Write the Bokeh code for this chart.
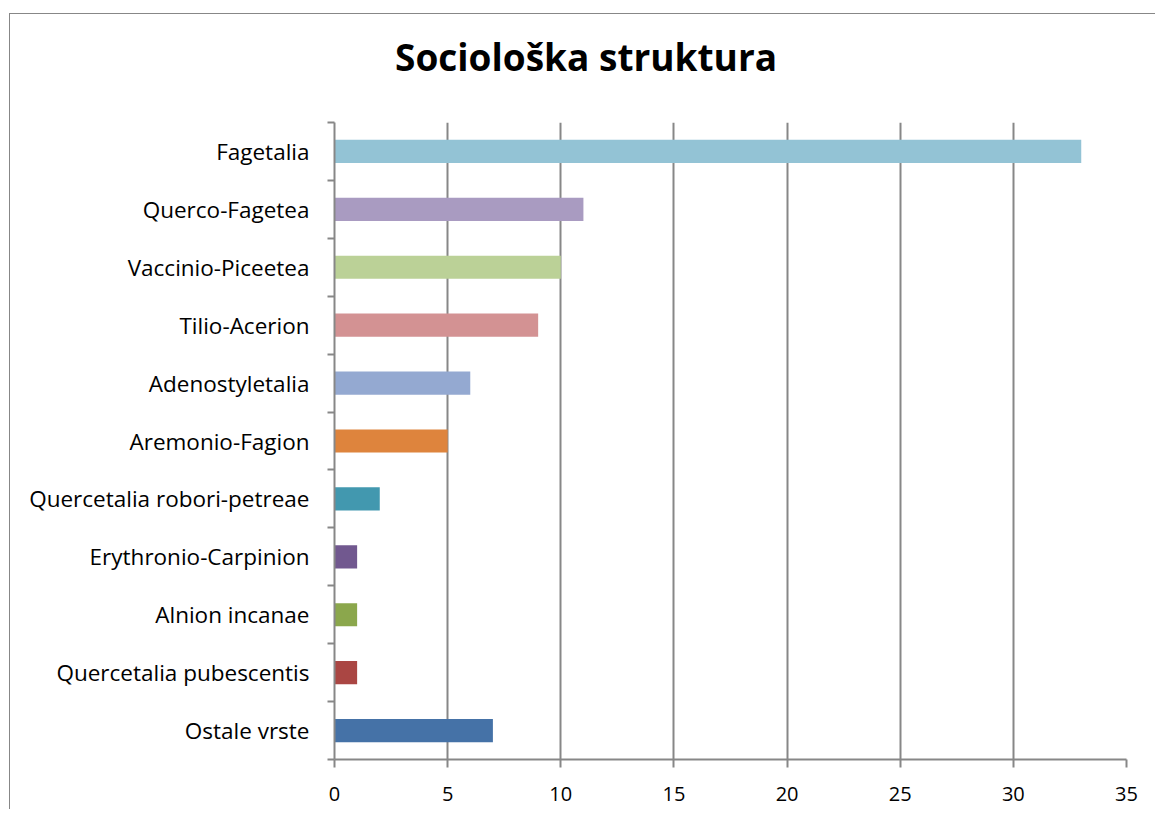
from bokeh.plotting import figure
from bokeh.models import FixedTicker, ColumnDataSource, Range1d, Div
from bokeh.layouts import column
from bokeh.embed import file_html
from bokeh.resources import INLINE

categories = ["Fagetalia", "Querco-Fagetea", "Vaccinio-Piceetea", "Tilio-Acerion",
              "Adenostyletalia", "Aremonio-Fagion", "Quercetalia robori-petreae",
              "Erythronio-Carpinion", "Alnion incanae", "Quercetalia pubescentis",
              "Ostale vrste"]
values = [33, 11, 10, 9, 6, 5, 2, 1, 1, 1, 7]
colors = ["#93C3D5", "#A99BC1", "#BBD197", "#D39293", "#94A9D1", "#DE843D",
          "#4298AF", "#71588F", "#8BA74C", "#AA4643", "#4572A7"]
x_ticks = [0, 5, 10, 15, 20, 25, 30, 35]
title_text = "Sociološka struktura"

n = len(categories)
ypos = [n - i - 0.5 for i in range(n)]
src = ColumnDataSource(dict(cat=categories, val=values, color=colors, y=ypos))

GRAY = "#878787"
FONT = "Open Sans"
FRAME_W, FRAME_H = 792, 637

p = figure(frame_width=FRAME_W, frame_height=FRAME_H,
           min_border_left=324, min_border_right=29, min_border_top=5, min_border_bottom=50,
           x_range=Range1d(0, 35), y_range=Range1d(0, n),
           output_backend="svg", toolbar_location=None)

p.hbar(y="y", right="val", left=0, height=0.4, fill_color="color", line_color=None, source=src)

p.outline_line_color = None
p.background_fill_color = "white"
p.border_fill_color = "white"

# x axis
p.xaxis.ticker = FixedTicker(ticks=x_ticks)
p.xaxis.axis_line_color = GRAY
p.xaxis.axis_line_width = 2
p.xaxis.major_tick_line_color = GRAY
p.xaxis.major_tick_line_width = 2
p.xaxis.major_tick_out = 8
p.xaxis.major_tick_in = 0
p.xaxis.minor_tick_line_color = None
p.xaxis.major_label_standoff = 19
p.xaxis.major_label_text_font = FONT
p.xaxis.major_label_text_font_size = "20px"
p.xaxis.major_label_text_color = "black"

# y axis
p.yaxis.ticker = FixedTicker(ticks=ypos, minor_ticks=list(range(n + 1)))
p.yaxis.major_label_overrides = {y: c for y, c in zip(ypos, categories)}
p.yaxis.axis_line_color = GRAY
p.yaxis.axis_line_width = 2
p.yaxis.major_tick_line_color = None
p.yaxis.major_tick_out = 0
p.yaxis.major_tick_in = 0
p.yaxis.minor_tick_line_color = GRAY
p.yaxis.minor_tick_line_width = 2
p.yaxis.minor_tick_out = 7
p.yaxis.minor_tick_in = 0
p.yaxis.major_label_standoff = 18
p.yaxis.major_label_text_font = FONT
p.yaxis.major_label_text_font_size = "22.5px"
p.yaxis.major_label_text_color = "black"

# grid
p.ygrid.visible = False
p.xgrid.ticker = FixedTicker(ticks=x_ticks)
p.xgrid.grid_line_color = GRAY
p.xgrid.grid_line_width = 2

# title as a header block above the plot
title = Div(text=title_text, width=1140, height=103, margin=0,
            styles={"font-family": FONT, "font-size": "37px", "font-weight": "bold",
                    "color": "black", "line-height": "1.362",
                    "padding-left": "385px", "padding-top": "18px",
                    "box-sizing": "border-box", "white-space": "nowrap"})

layout = column(title, p, spacing=0,
                styles={"margin-top": "13px", "margin-left": "9px",
                        "border-left": "1px solid " + GRAY,
                        "border-top": "1px solid " + GRAY,
                        "background-color": "white"})

open("out.html", "w").write(file_html(layout, INLINE))
